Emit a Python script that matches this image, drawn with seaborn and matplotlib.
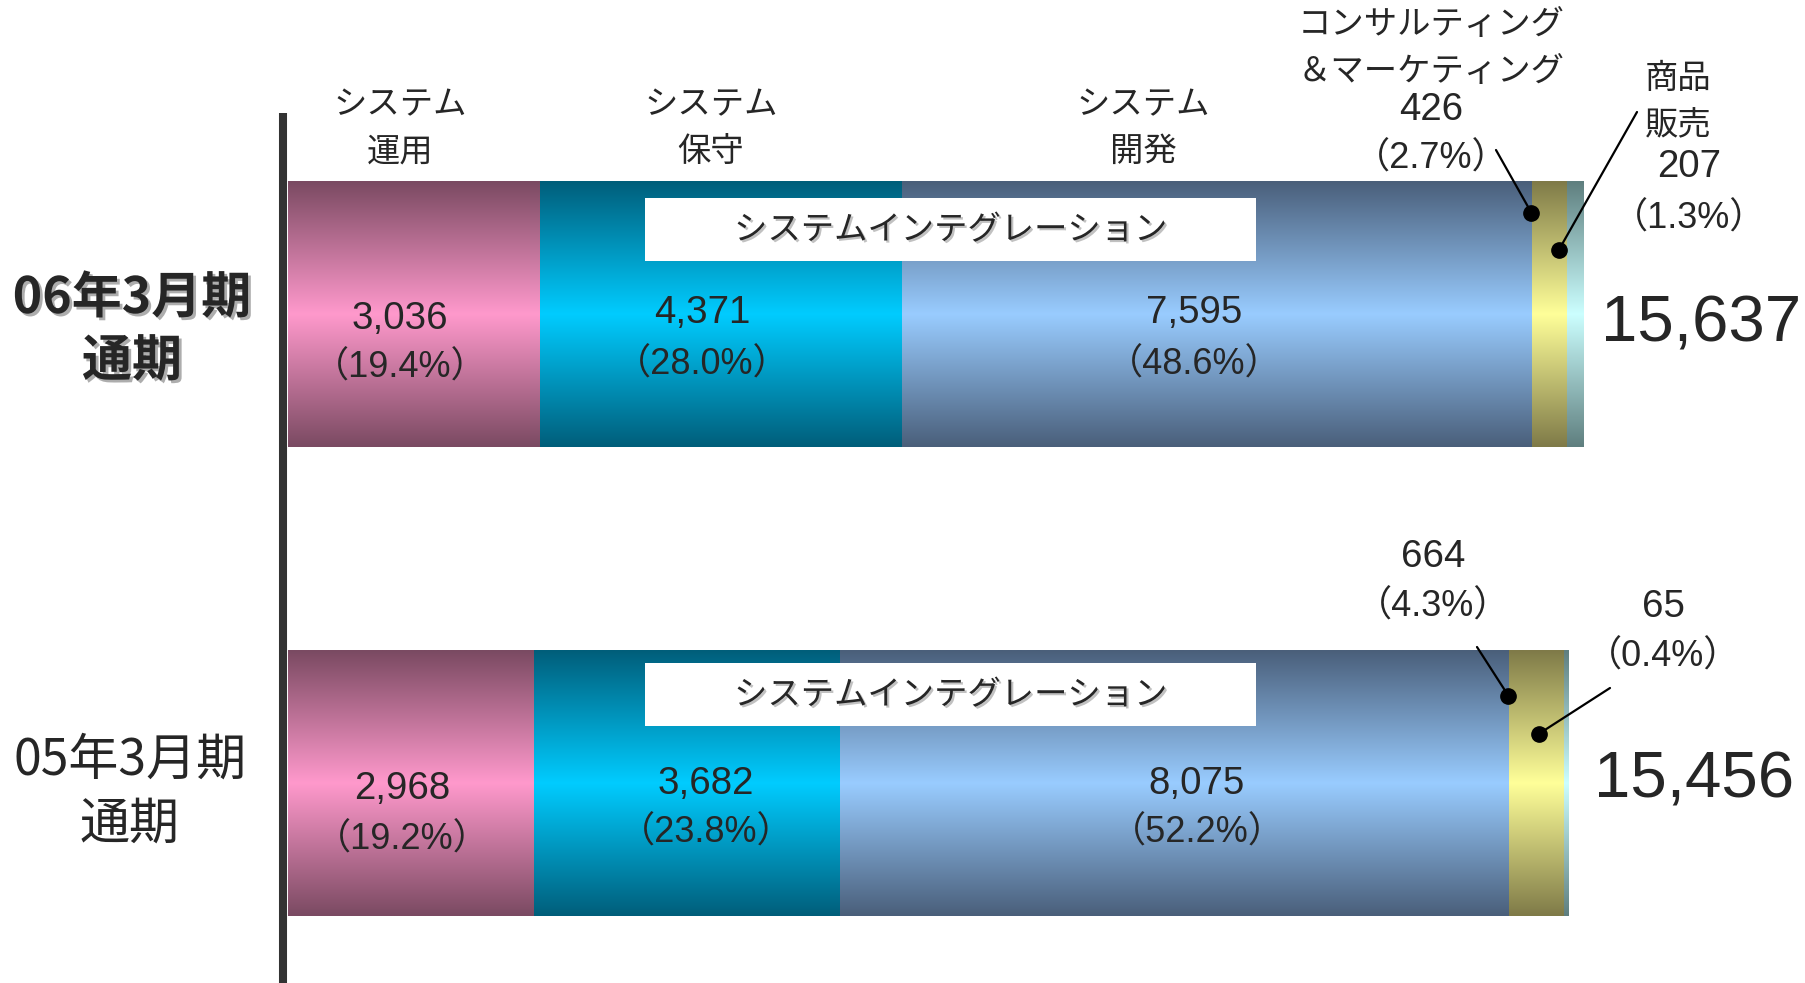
import numpy as np
import pandas as pd
import matplotlib
matplotlib.use('Agg')
import matplotlib.pyplot as plt
import matplotlib.patheffects as pe
from matplotlib.colors import LinearSegmentedColormap
from matplotlib.patches import Rectangle
from matplotlib import font_manager
import seaborn as sns

# データ（百万円）
periods = ['06年3月期\n通期', '05年3月期\n通期']
segments = ['システム運用', 'システム保守', 'システム開発',
            'コンサルティング＆マーケティング', '商品販売']
sales_06 = [3036, 4371, 7595, 426, 207]
sales_05 = [2968, 3682, 8075, 664, 65]
share_06 = [19.4, 28.0, 48.6, 2.7, 1.3]
share_05 = [19.2, 23.8, 52.2, 4.3, 0.4]
totals = [15637, 15456]

mid_colors = ['#ff99cc', '#00ccff', '#99ccff', '#ffff99', '#ccffff']
edge_colors = ['#7a4a62', '#005e7a', '#4a5f7a', '#7f7a48', '#5f7f7f']

# フォント（細字の数字フォントがあれば使う）
names = {f.name for f in font_manager.fontManager.ttflist}
NARROW = 'Liberation Sans Narrow' in names
NUM = 'Liberation Sans Narrow' if NARROW else 'Liberation Sans'
JP = 'Noto Sans CJK JP'
k_num = 1.0 if NARROW else 0.84   # 数字の大きさ補正

sns.set_theme(style='white')
plt.rcParams['font.family'] = [JP, 'DejaVu Sans']

W, H = 1805, 983
fig = plt.figure(figsize=(W / 100, H / 100), dpi=100)
ax = fig.add_axes([0, 0, 1, 1])

def fx(px):
    return px / W

def fy(py):
    return 1 - py / H

# 積み上げ用の累積値
df = pd.DataFrame({
    'period': np.repeat(periods, len(segments)),
    'segment': segments * 2,
    'value': sales_06 + sales_05,
})
df['cum'] = df.groupby('period', sort=False)['value'].cumsum()

BAR_W = 0.566
grad = (1 - np.abs(np.linspace(-1, 1, 256)))[:, None]

# 大きい累積から順に描画し、グラデーションで塗る
for k, i in enumerate(reversed(range(len(segments)))):
    sub = df[df['segment'] == segments[i]]
    n0 = len(ax.patches)
    sns.barplot(data=sub, x='cum', y='period', order=periods, orient='h',
                width=BAR_W, color=mid_colors[i], errorbar=None, ax=ax)
    cmap = LinearSegmentedColormap.from_list('g%d' % i, [edge_colors[i], mid_colors[i]])
    for p in ax.patches[n0:]:
        x0, y0, w, h = p.get_x(), p.get_y(), p.get_width(), p.get_height()
        ax.imshow(grad, cmap=cmap, vmin=0, vmax=1, aspect='auto',
                  extent=[x0, x0 + w, y0 + h, y0], interpolation='bilinear',
                  zorder=2 + k)
        p.set_facecolor('none')
        p.set_edgecolor('none')

# スケール（左端 288px、15,637 → 1584px）
PX = 1296 / totals[0]
ax.set_xlim(-288 / PX, (W - 288) / PX)
ax.set_ylim(1.427, -0.671)
ax.axis('off')

# 縦軸の線
ax.plot([-5 / PX, -5 / PX], [-0.43, 1.427], color='#333333', lw=5.8,
        solid_capstyle='butt', zorder=20)

# 期のラベル
shadow = [pe.withSimplePatchShadow(offset=(2, -2), shadow_rgbFace='#777777', alpha=0.6)]
fig.text(fx(132), fy(330), periods[0], fontsize=36, weight='bold', ha='center',
         va='center', multialignment='center', linespacing=1.3, path_effects=shadow)
fig.text(fx(130), fy(793), periods[1], fontsize=36, ha='center',
         va='center', multialignment='center', linespacing=1.3)

# 区分名
heads = ['システム\n運用', 'システム\n保守', 'システム\n開発']
for t, x in zip(heads, [400, 711, 1143]):
    fig.text(fx(x), fy(128), t, fontsize=24, ha='center', va='center',
             multialignment='center', linespacing=1.45)
fig.text(fx(1431), fy(48), 'コンサルティング\n＆マーケティング', fontsize=24,
         ha='center', va='center', multialignment='center', linespacing=1.45)
fig.text(fx(1678), fy(102), '商品\n販売', fontsize=24, ha='center', va='center',
         multialignment='center', linespacing=1.45)

# システムインテグレーション の白枠
for yb in [198, 663]:
    fig.add_artist(Rectangle((fx(645), fy(yb + 63)), 611 / W, 63 / H,
                             transform=fig.transFigure, facecolor='white',
                             edgecolor='none', zorder=1))
    fig.text(fx(951), fy(yb + 32), 'システムインテグレーション', fontsize=24,
             ha='center', va='center', zorder=3,
             path_effects=[pe.withSimplePatchShadow(offset=(1.5, -1.5),
                                                    shadow_rgbFace='#999999', alpha=0.6)])

# 棒内の値ラベル
num_fam = [NUM, JP]
FS_V = 33 * k_num
FS_P = 31 * k_num
pos_06 = [(400, 319, 368), (702, 313, 365), (1194, 313, 365)]
pos_05 = [(402, 789, 840), (706, 784, 833), (1197, 784, 833)]
for vals, shares, pos in [(sales_06, share_06, pos_06), (sales_05, share_05, pos_05)]:
    for v, s, (x, y1, y2) in zip(vals, shares, pos):
        fig.text(fx(x), fy(y1), f'{v:,}', fontsize=FS_V, family=num_fam,
                 ha='center', va='center')
        fig.text(fx(x), fy(y2), f'（{s:.1f}%）', fontsize=FS_P, family=num_fam,
                 ha='center', va='center')

# 小さい区分のラベル
small = [
    (sales_06[3], share_06[3], 1431, 110, 159),
    (sales_06[4], share_06[4], 1689, 167, 219),
    (sales_05[3], share_05[3], 1433, 557, 607),
    (sales_05[4], share_05[4], 1663, 607, 657),
]
for v, s, x, y1, y2 in small:
    fig.text(fx(x), fy(y1), f'{v:,}', fontsize=FS_V, family=num_fam,
             ha='center', va='center')
    fig.text(fx(x), fy(y2), f'（{s:.1f}%）', fontsize=FS_P, family=num_fam,
             ha='center', va='center')

# 引き出し線
cum06 = np.cumsum(sales_06)
cum05 = np.cumsum(sales_05)
leaders = [
    ((cum06[2], -0.217), (1496, 150)),
    ((15335, -0.138), (1637, 112)),
    ((cum05[2], 0.814), (1477, 647)),
    ((15094, 0.895), (1610, 688)),
]
for (dx, dy), (tx, ty) in leaders:
    ax.annotate('', xy=(dx, dy), xytext=(fx(tx), fy(ty)), textcoords='figure fraction',
                arrowprops=dict(arrowstyle='-', color='black', lw=1.6,
                                shrinkA=0, shrinkB=0), zorder=15)
    ax.plot(dx, dy, 'o', color='black', ms=11, zorder=16)

# 合計
FS_T = 56 * k_num
fig.text(fx(1701), fy(325), f'{totals[0]:,}', fontsize=FS_T, family=num_fam,
         ha='center', va='center')
fig.text(fx(1694), fy(780), f'{totals[1]:,}', fontsize=FS_T, family=num_fam,
         ha='center', va='center')

fig.savefig('out.png', dpi=100)
